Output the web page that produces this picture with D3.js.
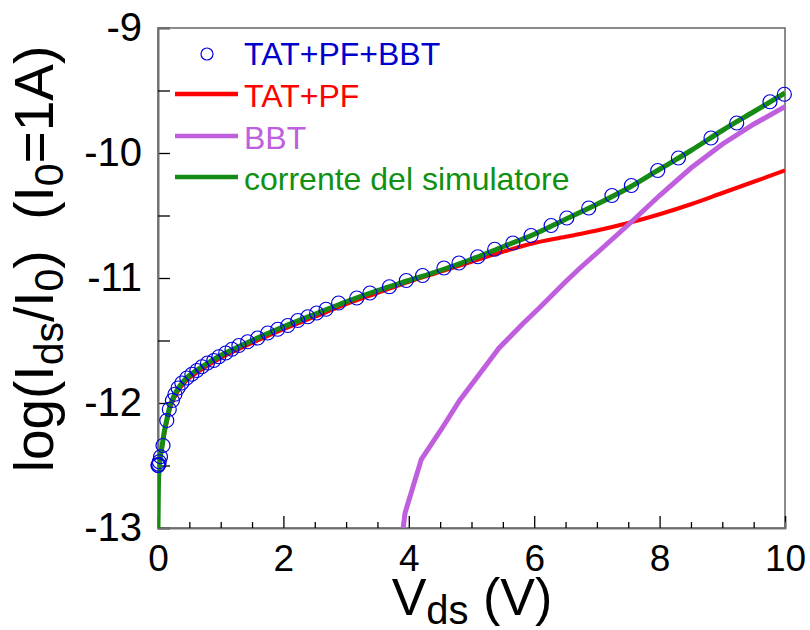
<!DOCTYPE html>
<html><head><meta charset="utf-8">
<script src="https://cdn.jsdelivr.net/npm/d3@7/dist/d3.min.js"></script>
<style>
body{margin:0;background:#fff}
text{font-family:"Liberation Sans",Arial,Helvetica,sans-serif}
</style>
</head><body>
<svg id="chart" width="810" height="630"></svg>
<script>
// ---- data ----
const xTicks = [0, 2, 4, 6, 8, 10];
const yTicks = [-13, -12, -11, -10, -9];
const xMinor = [0.5,1,1.5,2.5,3,3.5,4.5,5,5.5,6.5,7,7.5,8.5,9,9.5];
const yMinor = [-12.5,-11.5,-10.5,-9.5];

// TAT+PF+BBT (circles)
const circleVds = [0, 0.005, 0.01, 0.02, 0.04, 0.08, 0.14, 0.18, 0.23, 0.27, 0.32, 0.38, 0.46, 0.54, 0.62, 0.70, 0.79, 0.89, 0.97, 1.08, 1.18, 1.29, 1.43, 1.59, 1.75, 1.91, 2.07, 2.23, 2.39, 2.53, 2.68, 2.88, 3.17, 3.38, 3.69, 3.96, 4.22, 4.56, 4.80, 5.10, 5.37, 5.66, 5.95, 6.27, 6.52, 6.87, 7.24, 7.55, 7.97, 8.30, 8.82, 9.23, 9.76, 9.99];
const circleLog = [-12.5, -12.5, -12.49, -12.47, -12.43, -12.34, -12.14, -12.05, -11.98, -11.93, -11.88, -11.84, -11.80, -11.77, -11.74, -11.71, -11.68, -11.66, -11.63, -11.60, -11.57, -11.54, -11.51, -11.48, -11.44, -11.41, -11.38, -11.34, -11.31, -11.28, -11.25, -11.20, -11.16, -11.12, -11.07, -11.02, -10.98, -10.92, -10.88, -10.83, -10.77, -10.72, -10.66, -10.58, -10.52, -10.44, -10.34, -10.26, -10.14, -10.04, -9.88, -9.76, -9.59, -9.53];

// corrente del simulatore
const simVds = [0, 0.005, 0.01, 0.03, 0.06, 0.1, 0.15, 0.2, 0.3, 0.4, 0.5, 0.7, 1.0, 1.5, 2.0, 2.5, 3.0, 3.5, 4.0, 4.5, 5.0, 5.5, 6.0, 6.5, 7.0, 7.5, 8.0, 8.5, 9.0, 9.5, 10];
const simLog = [-13, -12.75, -12.6, -12.45, -12.36, -12.23, -12.11, -12.01, -11.90, -11.83, -11.78, -11.71, -11.62, -11.50, -11.39, -11.29, -11.19, -11.10, -11.02, -10.94, -10.85, -10.75, -10.65, -10.53, -10.41, -10.28, -10.13, -9.98, -9.82, -9.67, -9.52];

// TAT+PF
const tatVds = [0, 0.03, 0.06, 0.1, 0.15, 0.2, 0.3, 0.4, 0.5, 0.7, 1.0, 1.5, 2.0, 2.5, 3.0, 3.5, 4.0, 4.5, 5.0, 5.5, 6.0, 6.5, 7.0, 7.5, 8.0, 8.5, 9.0, 9.5, 10];
const tatLog = [-12.5, -12.46, -12.37, -12.25, -12.13, -12.03, -11.92, -11.85, -11.80, -11.73, -11.64, -11.52, -11.41, -11.31, -11.21, -11.12, -11.03, -10.95, -10.87, -10.79, -10.72, -10.67, -10.62, -10.56, -10.49, -10.41, -10.32, -10.23, -10.14];

// BBT
const bbtVds = [3.91, 3.94, 4.2, 4.52, 4.81, 5.29, 5.44, 5.81, 6.08, 6.5, 6.71, 7.0, 7.51, 8.0, 8.5, 9.0, 9.5, 10];
const bbtLog = [-13, -12.88, -12.45, -12.21, -11.98, -11.66, -11.56, -11.37, -11.24, -11.03, -10.93, -10.80, -10.57, -10.34, -10.12, -9.93, -9.77, -9.63];

const legendLabels = ["TAT+PF+BBT", "TAT+PF", "BBT", "corrente del simulatore"];
const seriesColors = {circles: "#0000e0", tat: "#ff0000", bbt: "#c05fdd", sim: "#158a15"};
const legendTextColors = ["#0000cc", "#ff0000", "#c05fdd", "#119111"];

// ---- chart ----
const svg = d3.select("#chart");
const x = d3.scaleLinear().domain([0, 10]).range([158, 785]);
const y = d3.scaleLinear().domain([-13, -9]).range([528, 28]);

svg.append("defs").append("clipPath").attr("id", "clip")
  .append("rect").attr("x", 158).attr("y", 28).attr("width", 627).attr("height", 500);

// frame
svg.append("rect").attr("x", 158).attr("y", 28).attr("width", 627).attr("height", 500)
  .attr("fill", "none").attr("stroke", "#6e6e6e").attr("stroke-width", 1.6);

// axes
const fmt = d => String(d);
const gx = svg.append("g").attr("transform", `translate(0,${y(-13)})`)
  .call(d3.axisBottom(x).tickValues(xTicks).tickSize(-12).tickPadding(17).tickFormat(fmt));
const gxm = svg.append("g").attr("transform", `translate(0,${y(-13)})`)
  .call(d3.axisBottom(x).tickValues(xMinor).tickSize(-6).tickFormat(""));
const gy = svg.append("g").attr("transform", `translate(${x(0)},0)`)
  .call(d3.axisLeft(y).tickValues(yTicks).tickSize(-12).tickPadding(16).tickFormat(fmt));
const gym = svg.append("g").attr("transform", `translate(${x(0)},0)`)
  .call(d3.axisLeft(y).tickValues(yMinor).tickSize(-12).tickFormat(""));
[gx, gxm, gy, gym].forEach(g => {
  g.select(".domain").attr("stroke", "#6e6e6e").attr("stroke-width", 1.6);
  g.selectAll(".tick line").attr("stroke", "#000").attr("stroke-width", 1.3);
});
gx.selectAll(".tick text").attr("font-size", 37).attr("fill", "#000")
  .attr("font-family", '"Liberation Sans",Arial,sans-serif');
gy.selectAll(".tick text").attr("font-size", 40).attr("fill", "#000").attr("dy", "0.3em")
  .attr("font-family", '"Liberation Sans",Arial,sans-serif');

// lines
const plot = svg.append("g").attr("clip-path", "url(#clip)");
const lineGen = d3.line().x(d => x(d[0])).y(d => y(d[1]));
const smooth = d3.line().x(d => x(d[0])).y(d => y(d[1])).curve(d3.curveCatmullRom.alpha(0.5));

plot.append("path").datum(d3.zip(tatVds, tatLog)).attr("d", smooth)
  .attr("fill", "none").attr("stroke", seriesColors.tat).attr("stroke-width", 4);
plot.append("path").datum(d3.zip(bbtVds, bbtLog)).attr("d", lineGen)
  .attr("fill", "none").attr("stroke", seriesColors.bbt).attr("stroke-width", 5);
plot.append("path").datum(d3.zip(simVds, simLog)).attr("d", smooth)
  .attr("fill", "none").attr("stroke", seriesColors.sim).attr("stroke-width", 5);

svg.append("g").selectAll("circle").data(d3.zip(circleVds, circleLog)).join("circle")
  .attr("cx", d => x(d[0])).attr("cy", d => y(d[1])).attr("r", 7)
  .attr("fill", "none").attr("stroke", seriesColors.circles).attr("stroke-width", 1.2);

// legend
const lg = svg.append("g");
const baselines = [65, 107, 149, 190];
lg.append("circle").attr("cx", 207).attr("cy", 54).attr("r", 6)
  .attr("fill", "none").attr("stroke", seriesColors.circles).attr("stroke-width", 1.2);
const lineKeys = [null, "tat", "bbt", "sim"];
legendLabels.forEach((lab, i) => {
  if (i > 0) {
    lg.append("line").attr("x1", 175).attr("x2", 238)
      .attr("y1", baselines[i] - 13).attr("y2", baselines[i] - 13)
      .attr("stroke", seriesColors[lineKeys[i]]).attr("stroke-width", 4.5);
  }
  lg.append("text").attr("x", 244).attr("y", baselines[i]).attr("font-size", 32)
    .attr("fill", legendTextColors[i]).text(lab);
});

// x-axis title
const xt = svg.append("text").attr("x", 472).attr("y", 615).attr("text-anchor", "middle")
  .attr("font-size", 52).attr("fill", "#000");
xt.append("tspan").text("V");
xt.append("tspan").attr("font-size", 40).attr("dy", 9).text("ds");
xt.append("tspan").attr("dy", -9).text(" (V)");

// y-axis title
const yt = svg.append("text").attr("transform", "translate(53,259) rotate(-90)")
  .attr("text-anchor", "middle").attr("font-size", 55).attr("fill", "#000")
  .style("white-space", "pre");
yt.append("tspan").text("log(I");
yt.append("tspan").attr("font-size", 41).attr("dy", 10).text("ds");
yt.append("tspan").attr("dy", -10).text("/I");
yt.append("tspan").attr("font-size", 41).attr("dy", 10).text("0");
yt.append("tspan").attr("dy", -10).text(")  (I");
yt.append("tspan").attr("font-size", 41).attr("dy", 10).text("0");
yt.append("tspan").attr("dy", -10).text("=1A)");
</script>
</body></html>
